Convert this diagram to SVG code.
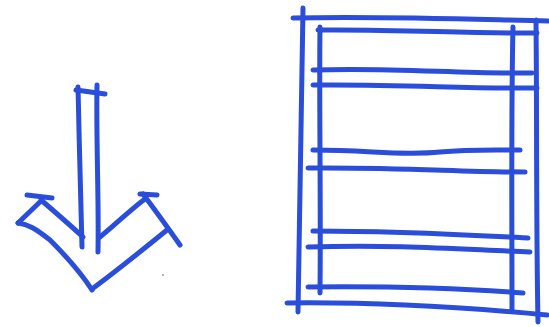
<svg xmlns="http://www.w3.org/2000/svg" width="549" height="327" viewBox="0 0 549 327">
<style>
.s{fill:none;stroke:#2a4edb;stroke-width:5;stroke-linecap:round;stroke-linejoin:round}
</style>
<rect width="549" height="327" fill="#fff"/>
<g id="arrow">
<path class="s" d="M78,87 C79,140 81,200 82,247"/>
<path class="s" d="M97,85 C96,140 99,200 98,252"/>
<path class="s" d="M76,90 L105,94"/>
<path class="s" d="M27,195 L52,198"/>
<path class="s" d="M41,200 C55,212 70,225 83,237"/>
<path class="s" d="M18,223 L42,200"/>
<path class="s" d="M18,223 C28,224 36,229 50,240 C62,252 78,268 92,290"/>
<path class="s" d="M92,289 C115,272 140,252 167,230"/>
<path class="s" d="M140,194 L157,195"/>
<path class="s" d="M143,194 C155,210 168,228 180,245"/>
<path class="s" d="M100,237 C115,225 130,210 145,199"/>
<circle cx="163" cy="275" r="1" fill="#8a9ae8"/>
</g>
<g id="table">
<path class="s" d="M293,18 C380,16 460,19 548,21"/>
<path class="s" d="M303,8 C301,100 300,200 298,312"/>
<path class="s" d="M536,20 C537,110 536,220 538,322"/>
<path class="s" d="M287,303 C370,302 450,306 547,315"/>
<path class="s" d="M320,27 C319,100 321,200 320,293"/>
<path class="s" d="M513,27 C511,110 512,220 512,310"/>
<path class="s" d="M318,30 C400,29 470,34 537,33"/>
<path class="s" d="M313,70 C390,67 460,74 532,73"/>
<path class="s" d="M313,85 C400,84 470,89 537,88"/>
<path class="s" d="M313,150 C370,150 400,156 440,152 C470,149 500,150 520,150"/>
<path class="s" d="M308,168 C400,167 460,172 525,172"/>
<path class="s" d="M313,231 C400,231 470,235 528,238"/>
<path class="s" d="M308,247 C400,244 470,250 530,252"/>
<path class="s" d="M308,287 C400,286 470,289 523,293"/>
</g>
</svg>
